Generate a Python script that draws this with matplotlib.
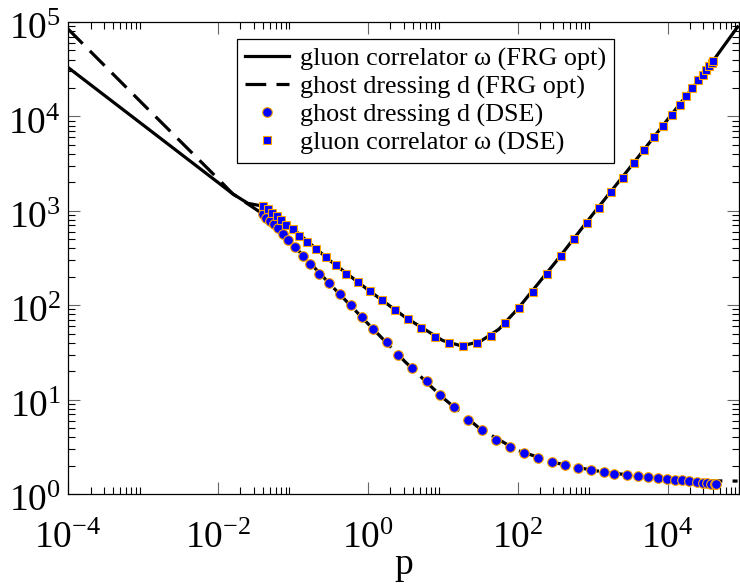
import numpy as np
import matplotlib.pyplot as plt
import matplotlib.transforms as mtransforms

plt.rcParams['font.family'] = ['Liberation Serif', 'DejaVu Serif']
plt.rcParams['mathtext.fontset'] = 'custom'
plt.rcParams['mathtext.rm'] = 'Liberation Serif'
plt.rcParams['mathtext.it'] = 'Liberation Serif:italic'

# FRG curves
p_frg_gluon = [1e-4, 1e-3, 1e-2, 0.0158, 0.0251, 0.0398, 0.1, 0.316, 1.0, 3.16, 10.0,
               17.8, 31.6, 56.2, 100.0, 316.0, 1000.0, 3160.0, 1e4, 3.16e4, 8.6e4]
w_frg = [3.3e4, 8130, 2000, 1510, 1200, 1120, 646, 295, 146, 74.5, 42.2,
         37.0, 41.2, 55.6, 91.2, 282, 912, 2880, 9230, 29500, 88500]

p_frg_ghost = [1e-4, 1e-3, 1e-2, 0.0158, 0.0398, 0.1, 0.316, 1.0, 3.16, 10.0, 31.6,
               100.0, 316.0, 1000.0, 3160.0, 1e4, 3.16e4, 8.6e4]
d_frg = [84300, 13500, 2190, 1510, 925, 437, 166, 64.0, 25.1, 10.5, 4.89,
         2.89, 2.14, 1.78, 1.58, 1.44, 1.38, 1.37]

# DSE points
p_dse_ghost = [0.0398, 0.0437, 0.0493, 0.0558, 0.0631, 0.0736, 0.0857, 0.106, 0.136, 0.169,
               0.222, 0.302, 0.424, 0.593, 0.832, 1.17, 1.79, 2.51, 3.86, 6.12,
               9.12, 14.0, 21.5, 33.1, 50.9, 78.2, 120, 185, 284, 424,
               631, 940, 1400, 1960, 2840, 3980, 5410, 7360, 9700, 12400,
               15800, 19600, 24400, 29300, 34100, 38600, 42400, 45000]
d_dse = [925, 839, 780, 724, 658, 568, 491, 414, 332, 273,
         214, 172, 132, 100, 75.0, 56.0, 40.7, 29.6, 21.6, 15.7,
         11.2, 8.36, 6.08, 4.76, 3.73, 3.15, 2.72, 2.40, 2.18, 2.03,
         1.88, 1.79, 1.71, 1.63, 1.59, 1.55, 1.50, 1.46, 1.44, 1.41,
         1.39, 1.37, 1.34, 1.32, 1.31, 1.29, 1.28, 1.28]

p_dse_gluon = [0.0398, 0.0465, 0.0525, 0.0612, 0.0692, 0.0807, 0.100, 0.120, 0.154, 0.203,
               0.275, 0.374, 0.509, 0.736, 1.06, 1.54, 2.29, 3.41, 5.09, 7.82,
               12.0, 18.5, 28.4, 43.7, 67.1, 103, 158, 244, 374, 558,
               832, 1200, 1740, 2510, 3520, 4790, 6500, 8570, 11300, 14500,
               17900, 21500, 25900, 30200, 33100, 36300, 39800, 41000]
w_dse = [1125, 1045, 948, 881, 800, 708, 641, 541, 467, 394,
         324, 267, 214, 176, 141, 114, 88.9, 71.4, 57.3, 46.0,
         39.8, 37.0, 39.8, 47.2, 64.7, 93.3, 138, 214, 331, 500,
         740, 1070, 1580, 2220, 3210, 4410, 6050, 7910, 10400, 13200,
         16400, 20000, 24300, 27500, 31000, 34200, 36800, 38600]

x_major = [1e-4, 1e-2, 1e0, 1e2, 1e4]
x_labels = ['$10^{-4}$', '$10^{-2}$', '$10^{0}$', '$10^{2}$', '$10^{4}$']
y_major = [1e0, 1e1, 1e2, 1e3, 1e4, 1e5]
y_labels = ['$10^{0}$', '$10^{1}$', '$10^{2}$', '$10^{3}$', '$10^{4}$', '$10^{5}$']

fig = plt.figure(figsize=(7.4, 5.83), dpi=100)
ax = fig.add_axes([0.0919, 0.1527, 0.9068, 0.8096])

ax.plot(p_frg_gluon, w_frg, color='black', lw=2.3, label='gluon correlator ω (FRG opt)')
ax.plot(p_frg_ghost, d_frg, color='black', lw=2.3, dashes=(6.5, 3.2),
        label='ghost dressing d (FRG opt)')
ax.plot(p_dse_ghost, d_dse, 'o', ms=7, mfc='#0000ff', mec='#ffa500', mew=0.8,
        label='ghost dressing d (DSE)')
ax.plot(p_dse_gluon, w_dse, 's', ms=6.3, mfc='#0000ff', mec='#ffa500', mew=0.8,
        label='gluon correlator ω (DSE)')

ax.set_xscale('log')
ax.set_yscale('log')
ax.set_xlim(1e-4, 8.6e4)
ax.set_ylim(1, 1e5)

ax.set_xticks(x_major)
ax.set_xticklabels(x_labels)
ax.set_xticks([m * t for t in x_major for m in range(2, 10)], minor=True)
ax.set_yticks(y_major)
ax.set_yticklabels(y_labels)
ax.set_yticks([m * t for t in y_major[:-1] for m in range(2, 10)], minor=True)
ax.tick_params(which='both', direction='in', top=True, right=True)
ax.tick_params(which='major', length=8.6, width=0.8, color='#666666', labelsize=27, pad=5)
ax.tick_params(which='minor', length=5, width=0.8, color='black')
ax.tick_params(axis='x', which='major', pad=20)
ax.xaxis.set_minor_formatter(plt.NullFormatter())
ax.yaxis.set_minor_formatter(plt.NullFormatter())
for s in ax.spines.values():
    s.set_linewidth(0.9)

# nudge y tick labels down a little, like the original
shift = mtransforms.ScaledTranslation(0, -4 / 100, fig.dpi_scale_trans)
for lab in ax.get_yticklabels():
    lab.set_transform(lab.get_transform() + shift)

ax.set_xlabel('p', fontsize=27, labelpad=-6.5)

leg = ax.legend(loc='upper left', bbox_to_anchor=(0.252, 0.964), fontsize=18.8,
                frameon=True, fancybox=False, edgecolor='black', framealpha=1,
                handlelength=1.7, handletextpad=0.4, borderpad=0.3,
                labelspacing=0.17, numpoints=1, borderaxespad=0)
leg.get_frame().set_linewidth(0.9)

fig.savefig('out.png', dpi=100)
